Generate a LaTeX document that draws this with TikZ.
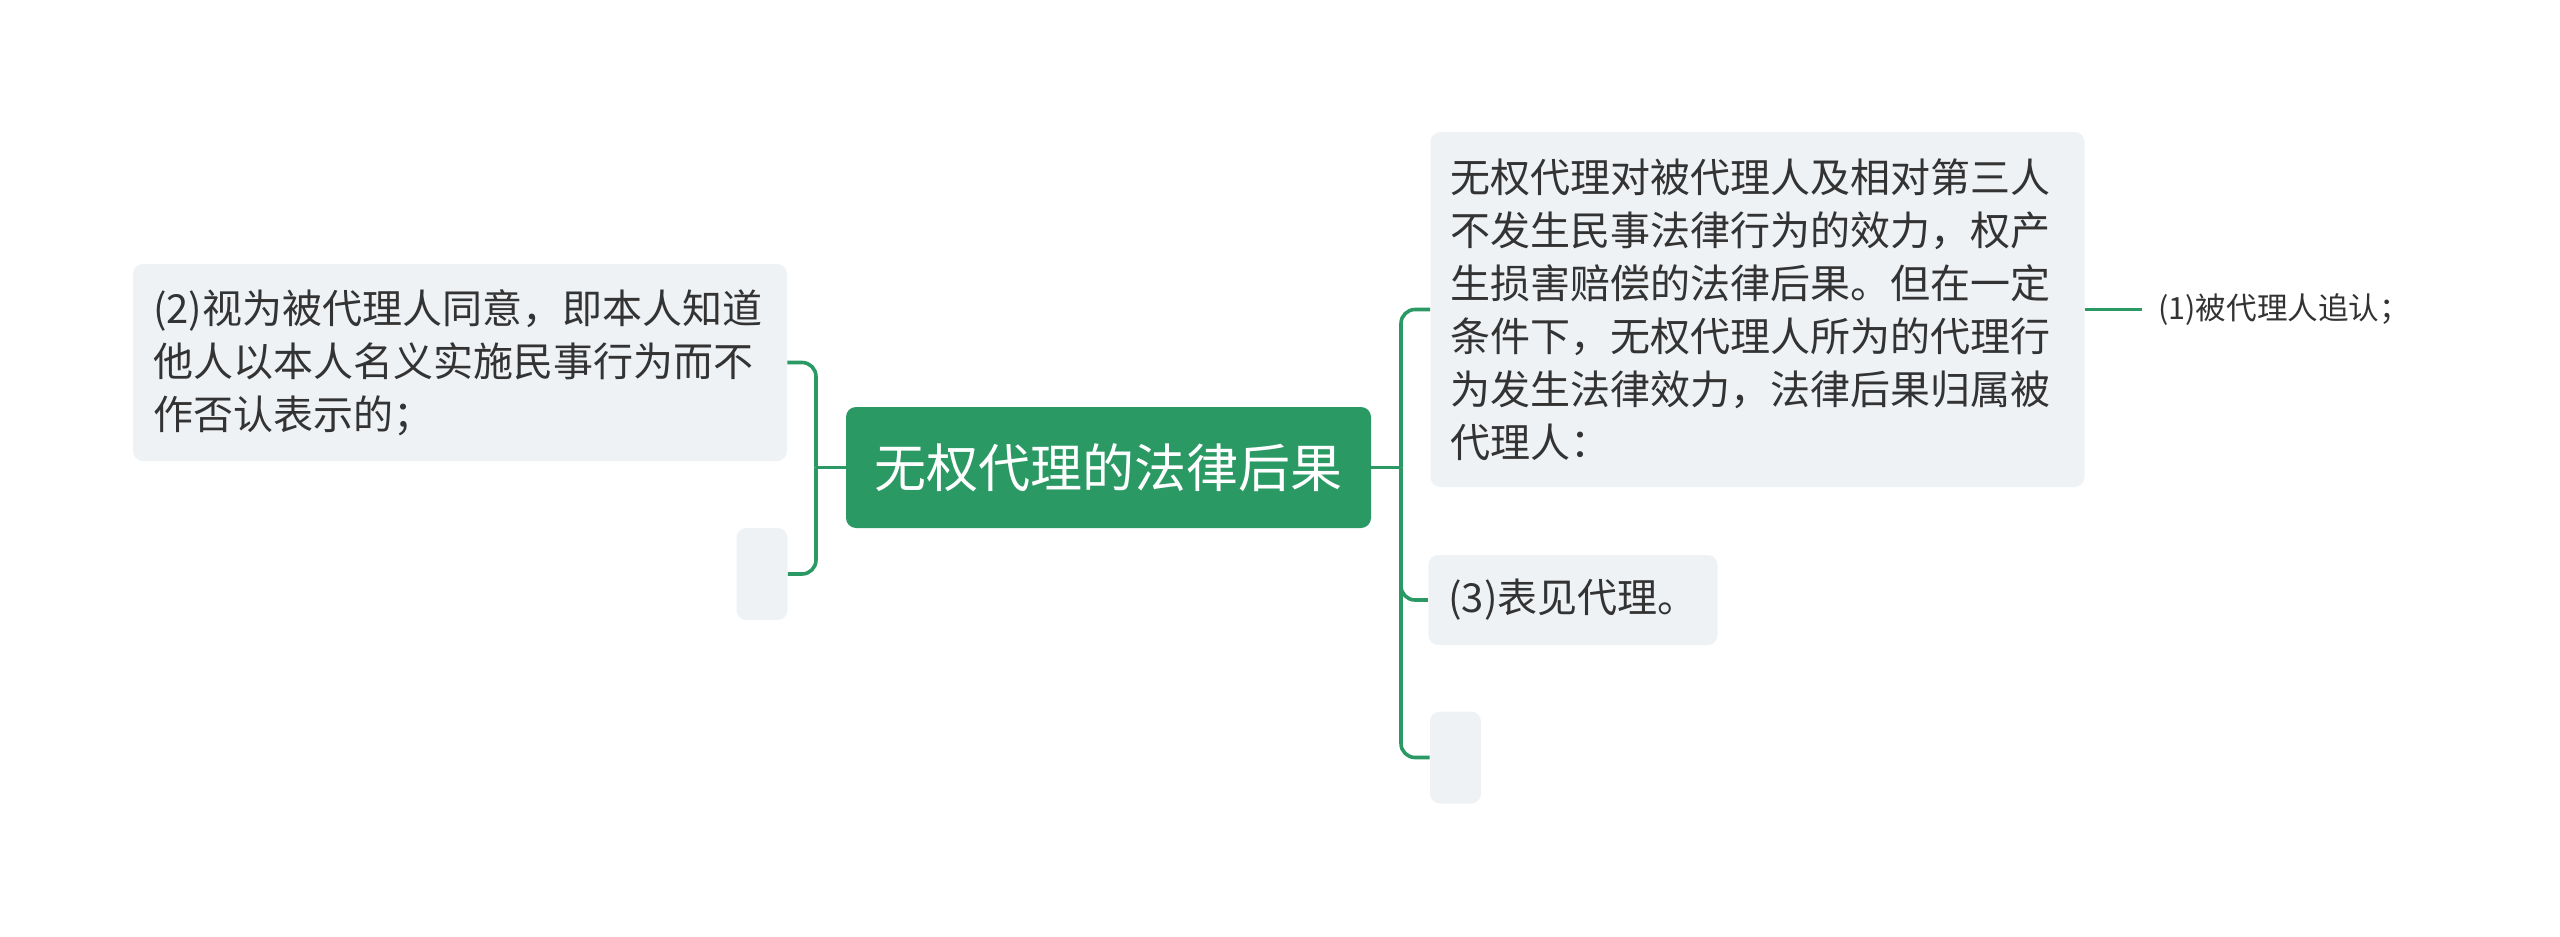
\documentclass[tikz,border=0pt]{standalone}
\usepackage{fontspec}
\setmainfont{Noto Sans CJK SC}
\usetikzlibrary{positioning}
\definecolor{mapgreen}{RGB}{43,153,99}
\definecolor{boxgray}{RGB}{239,242,245}
\definecolor{inkgray}{RGB}{51,51,51}
\tikzset{
  root/.style={fill=mapgreen, text=white, rounded corners=5pt, minimum width=262.5pt,
    minimum height=60.5pt, font=\fontsize{26pt}{30pt}\selectfont},
  leaf/.style={fill=boxgray, text=inkgray, rounded corners=5pt, inner xsep=10pt, inner ysep=0pt,
    align=left, font=\fontsize{20pt}{26.5pt}\selectfont},
  stub/.style={fill=boxgray, rounded corners=5pt, inner sep=0pt, minimum width=25.5pt, minimum height=46pt},
  link/.style={mapgreen, line width=1.8pt, rounded corners=7pt},
}

\begin{document}
\begin{tikzpicture}[x=0.5pt, y=-0.5pt]
    \fill[white] (0,0) rectangle (2560,937);
    \useasboundingbox (0,0) rectangle (2560,937);
    \node[root] (root) at (1108.5,467.5) {无权代理的法律后果};
    % left side
    \node[leaf, text width=307pt, minimum height=98.5pt] (l1) at (460,362.5)
        {(2)视为被代理人同意，即本人知道\\他人以本人名义实施民事行为而不\\作否认表示的；};
    \node[stub] (l2) at (762,574) {};
    % right side
    \node[leaf, text width=307pt, minimum height=177.5pt] (r1) at (1757.5,309.5)
        {无权代理对被代理人及相对第三人\\不发生民事法律行为的效力，权产\\生损害赔偿的法律后果。但在一定\\条件下，无权代理人所为的代理行\\为发生法律效力，法律后果归属被\\代理人：};
    \node[text=inkgray, inner xsep=8pt, font=\fontsize{15.3pt}{18pt}\selectfont, right=28.5pt of r1] (r1a)
        {(1)被代理人追认；};
    \node[leaf, minimum height=45pt] (r2) at (1573,600) {(3)表见代理。};
    \node[stub] (r3) at (1455.5,757.5) {};
    \coordinate (lfork) at (816,467.5);
    \coordinate (rfork) at (1401,467.5);
    \draw[link] (root.west) -- (lfork);
    \foreach \n in {l1,l2} \draw[link] (lfork) |- (\n.east);
    \draw[link] (root.east) -- (rfork);
    \foreach \n in {r1,r2,r3} \draw[link] (rfork) |- (\n.west);
    \draw[link] (r1.east) -- (r1a.west);
\end{tikzpicture}
\end{document}
